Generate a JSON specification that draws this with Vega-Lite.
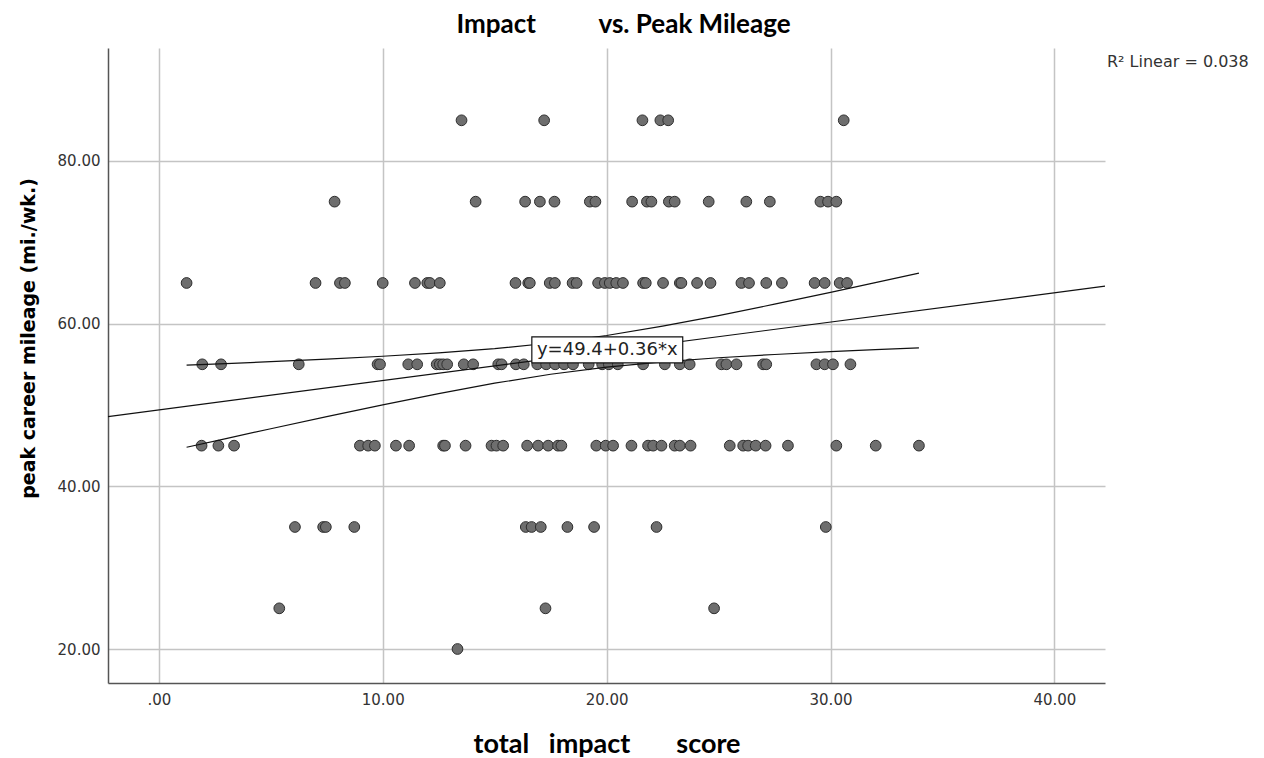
{
  "$schema": "https://vega.github.io/schema/vega-lite/v6.json",
  "width": 997,
  "height": 635,
  "autosize": {"type": "none"},
  "padding": {"left": 108, "top": 48, "right": 159, "bottom": 75},
  "background": "white",
  "title": {
    "text": "Impact\u00a0\u00a0\u00a0\u00a0\u00a0\u00a0\u00a0\u00a0\u00a0\u00a0vs. Peak Mileage",
    "font": "Lato",
    "fontSize": 26,
    "fontWeight": "bold",
    "color": "black",
    "anchor": "middle",
    "baseline": "alphabetic",
    "offset": -11,
    "dx": 17
  },
  "config": {
    "view": {"stroke": null},
    "axis": {
      "gridColor": "#c4c4c4",
      "gridWidth": 1.5,
      "domainColor": "#555555",
      "domainWidth": 1.5,
      "ticks": false,
      "labelFont": "DejaVu Sans",
      "labelFontSize": 15,
      "labelColor": "#333333"
    }
  },
  "datasets": {
    "points": [
      {"x": 13.52, "y": 85}, {"x": 17.21, "y": 85}, {"x": 21.6, "y": 85}, {"x": 22.4, "y": 85}, {"x": 22.75, "y": 85}, {"x": 30.59, "y": 85},
      {"x": 7.85, "y": 75}, {"x": 14.15, "y": 75}, {"x": 16.36, "y": 75}, {"x": 17.02, "y": 75}, {"x": 17.67, "y": 75}, {"x": 19.25, "y": 75}, {"x": 19.5, "y": 75}, {"x": 21.14, "y": 75}, {"x": 21.8, "y": 75}, {"x": 22.0, "y": 75}, {"x": 22.78, "y": 75}, {"x": 23.04, "y": 75}, {"x": 24.56, "y": 75}, {"x": 26.24, "y": 75}, {"x": 27.29, "y": 75}, {"x": 29.55, "y": 75}, {"x": 29.89, "y": 75}, {"x": 30.26, "y": 75},
      {"x": 1.24, "y": 65}, {"x": 7.0, "y": 65}, {"x": 8.09, "y": 65}, {"x": 8.31, "y": 65}, {"x": 10.0, "y": 65}, {"x": 11.44, "y": 65}, {"x": 11.99, "y": 65}, {"x": 12.11, "y": 65}, {"x": 12.55, "y": 65}, {"x": 15.93, "y": 65}, {"x": 16.5, "y": 65}, {"x": 16.57, "y": 65}, {"x": 17.46, "y": 65}, {"x": 17.69, "y": 65}, {"x": 18.48, "y": 65}, {"x": 18.66, "y": 65}, {"x": 19.62, "y": 65}, {"x": 19.92, "y": 65}, {"x": 20.14, "y": 65}, {"x": 20.43, "y": 65}, {"x": 20.73, "y": 65}, {"x": 21.63, "y": 65}, {"x": 21.75, "y": 65}, {"x": 22.52, "y": 65}, {"x": 23.27, "y": 65}, {"x": 23.34, "y": 65}, {"x": 24.04, "y": 65}, {"x": 24.64, "y": 65}, {"x": 26.02, "y": 65}, {"x": 26.36, "y": 65}, {"x": 27.13, "y": 65}, {"x": 27.83, "y": 65}, {"x": 29.29, "y": 65}, {"x": 29.74, "y": 65}, {"x": 30.41, "y": 65}, {"x": 30.74, "y": 65},
      {"x": 1.94, "y": 55}, {"x": 2.78, "y": 55}, {"x": 6.25, "y": 55}, {"x": 9.77, "y": 55}, {"x": 9.88, "y": 55}, {"x": 11.14, "y": 55}, {"x": 11.54, "y": 55}, {"x": 12.41, "y": 55}, {"x": 12.55, "y": 55}, {"x": 12.7, "y": 55}, {"x": 12.88, "y": 55}, {"x": 13.62, "y": 55}, {"x": 14.04, "y": 55}, {"x": 15.16, "y": 55}, {"x": 15.31, "y": 55}, {"x": 15.95, "y": 55}, {"x": 16.3, "y": 55}, {"x": 16.9, "y": 55}, {"x": 17.3, "y": 55}, {"x": 17.7, "y": 55}, {"x": 18.1, "y": 55}, {"x": 18.5, "y": 55}, {"x": 19.2, "y": 55}, {"x": 19.8, "y": 55}, {"x": 20.1, "y": 55}, {"x": 20.5, "y": 55}, {"x": 21.63, "y": 55}, {"x": 22.6, "y": 55}, {"x": 23.27, "y": 55}, {"x": 23.71, "y": 55}, {"x": 25.13, "y": 55}, {"x": 25.35, "y": 55}, {"x": 25.8, "y": 55}, {"x": 26.99, "y": 55}, {"x": 27.13, "y": 55}, {"x": 29.37, "y": 55}, {"x": 29.74, "y": 55}, {"x": 30.11, "y": 55}, {"x": 30.89, "y": 55},
      {"x": 1.91, "y": 45}, {"x": 2.66, "y": 45}, {"x": 3.36, "y": 45}, {"x": 8.98, "y": 45}, {"x": 9.35, "y": 45}, {"x": 9.65, "y": 45}, {"x": 10.59, "y": 45}, {"x": 11.18, "y": 45}, {"x": 12.7, "y": 45}, {"x": 12.78, "y": 45}, {"x": 13.7, "y": 45}, {"x": 14.86, "y": 45}, {"x": 15.08, "y": 45}, {"x": 15.38, "y": 45}, {"x": 16.45, "y": 45}, {"x": 16.94, "y": 45}, {"x": 17.39, "y": 45}, {"x": 17.83, "y": 45}, {"x": 17.98, "y": 45}, {"x": 19.54, "y": 45}, {"x": 19.96, "y": 45}, {"x": 20.29, "y": 45}, {"x": 21.11, "y": 45}, {"x": 21.85, "y": 45}, {"x": 22.08, "y": 45}, {"x": 22.45, "y": 45}, {"x": 23.04, "y": 45}, {"x": 23.27, "y": 45}, {"x": 23.75, "y": 45}, {"x": 25.5, "y": 45}, {"x": 26.1, "y": 45}, {"x": 26.32, "y": 45}, {"x": 26.66, "y": 45}, {"x": 27.1, "y": 45}, {"x": 28.1, "y": 45}, {"x": 30.26, "y": 45}, {"x": 32.02, "y": 45}, {"x": 33.95, "y": 45},
      {"x": 6.08, "y": 35}, {"x": 7.34, "y": 35}, {"x": 7.46, "y": 35}, {"x": 8.73, "y": 35}, {"x": 16.39, "y": 35}, {"x": 16.65, "y": 35}, {"x": 17.06, "y": 35}, {"x": 18.25, "y": 35}, {"x": 19.44, "y": 35}, {"x": 22.23, "y": 35}, {"x": 29.79, "y": 35},
      {"x": 5.38, "y": 25}, {"x": 17.27, "y": 25}, {"x": 24.8, "y": 25},
      {"x": 13.34, "y": 20}
    ],
    "fit": [
      {"x": -2.27, "y": 48.58},
      {"x": 42.26, "y": 64.61}
    ],
    "band": [
      {"x": 1.24, "y": 54.9, "side": "upper"}, {"x": 3, "y": 55.09, "side": "upper"}, {"x": 5, "y": 55.32, "side": "upper"}, {"x": 7.5, "y": 55.63, "side": "upper"}, {"x": 10, "y": 55.99, "side": "upper"}, {"x": 12.5, "y": 56.4, "side": "upper"}, {"x": 15, "y": 56.92, "side": "upper"}, {"x": 17.5, "y": 57.62, "side": "upper"}, {"x": 20, "y": 58.54, "side": "upper"}, {"x": 22.5, "y": 59.69, "side": "upper"}, {"x": 25, "y": 60.99, "side": "upper"}, {"x": 27.5, "y": 62.39, "side": "upper"}, {"x": 30, "y": 63.85, "side": "upper"}, {"x": 32, "y": 65.04, "side": "upper"}, {"x": 33.95, "y": 66.22, "side": "upper"},
      {"x": 1.24, "y": 44.8, "side": "lower"}, {"x": 3, "y": 45.87, "side": "lower"}, {"x": 5, "y": 47.08, "side": "lower"}, {"x": 7.5, "y": 48.57, "side": "lower"}, {"x": 10, "y": 50.02, "side": "lower"}, {"x": 12.5, "y": 51.4, "side": "lower"}, {"x": 15, "y": 52.68, "side": "lower"}, {"x": 17.5, "y": 53.78, "side": "lower"}, {"x": 20, "y": 54.66, "side": "lower"}, {"x": 22.5, "y": 55.31, "side": "lower"}, {"x": 25, "y": 55.81, "side": "lower"}, {"x": 27.5, "y": 56.21, "side": "lower"}, {"x": 30, "y": 56.55, "side": "lower"}, {"x": 32, "y": 56.8, "side": "lower"}, {"x": 33.95, "y": 57.02, "side": "lower"}
    ],
    "box": [
      {"x": 16.66, "x2": 23.4, "y": 58.37, "y2": 55.17, "label": "y=49.4+0.36*x"}
    ],
    "r2": [
      {"x": 42.26, "y": 92.17, "label": "R² Linear = 0.038"}
    ]
  },
  "encoding": {
    "x": {
      "field": "x",
      "type": "quantitative",
      "scale": {"domain": [-2.27, 42.26], "nice": false, "zero": false},
      "axis": {
        "values": [0, 10, 20, 30, 40],
        "labelExpr": "datum.value == 0 ? '.00' : format(datum.value, '.2f')",
        "labelPadding": 9,
        "grid": true,
        "title": "total\u00a0\u00a0\u00a0impact\u00a0\u00a0\u00a0\u00a0\u00a0\u00a0\u00a0score",
        "titleFont": "Lato",
        "titleFontSize": 27,
        "titleFontWeight": "bold",
        "titleColor": "black",
        "titleBaseline": "alphabetic",
        "titleY": 69
      }
    },
    "y": {
      "field": "y",
      "type": "quantitative",
      "scale": {"domain": [15.82, 93.89], "nice": false, "zero": false},
      "axis": {
        "values": [20, 40, 60, 80],
        "format": ".2f",
        "labelPadding": 8,
        "grid": true,
        "title": "peak career mileage (mi./wk.)",
        "titleFont": "DejaVu Sans",
        "titleFontSize": 19,
        "titleFontWeight": "bold",
        "titleColor": "black",
        "titleBaseline": "alphabetic",
        "titleX": -74,
        "titleY": 290
      }
    }
  },
  "layer": [
    {
      "data": {"name": "points"},
      "mark": {"type": "point", "filled": true, "shape": "circle", "size": 115, "fill": "#6e6e6e", "stroke": "#2e2e2e", "strokeWidth": 1, "opacity": 1}
    },
    {
      "data": {"name": "fit"},
      "mark": {"type": "line", "color": "#111111", "strokeWidth": 1.2}
    },
    {
      "data": {"name": "band"},
      "mark": {"type": "line", "color": "#111111", "strokeWidth": 1.2},
      "encoding": {"detail": {"field": "side", "type": "nominal"}}
    },
    {
      "data": {"name": "box"},
      "mark": {"type": "rect", "fill": "white", "stroke": "#111111", "strokeWidth": 1.2},
      "encoding": {"x2": {"field": "x2"}, "y2": {"field": "y2"}}
    },
    {
      "data": {"name": "box"},
      "mark": {"type": "text", "font": "DejaVu Sans", "fontSize": 18, "color": "#222222", "align": "center", "baseline": "middle"},
      "encoding": {
        "x": {"datum": 20.03, "type": "quantitative"},
        "y": {"datum": 56.77, "type": "quantitative"},
        "text": {"field": "label"}
      }
    },
    {
      "data": {"name": "r2"},
      "mark": {"type": "text", "font": "DejaVu Sans", "fontSize": 16, "color": "#333333", "align": "left", "baseline": "middle", "dx": 2},
      "encoding": {"text": {"field": "label"}}
    }
  ]
}
